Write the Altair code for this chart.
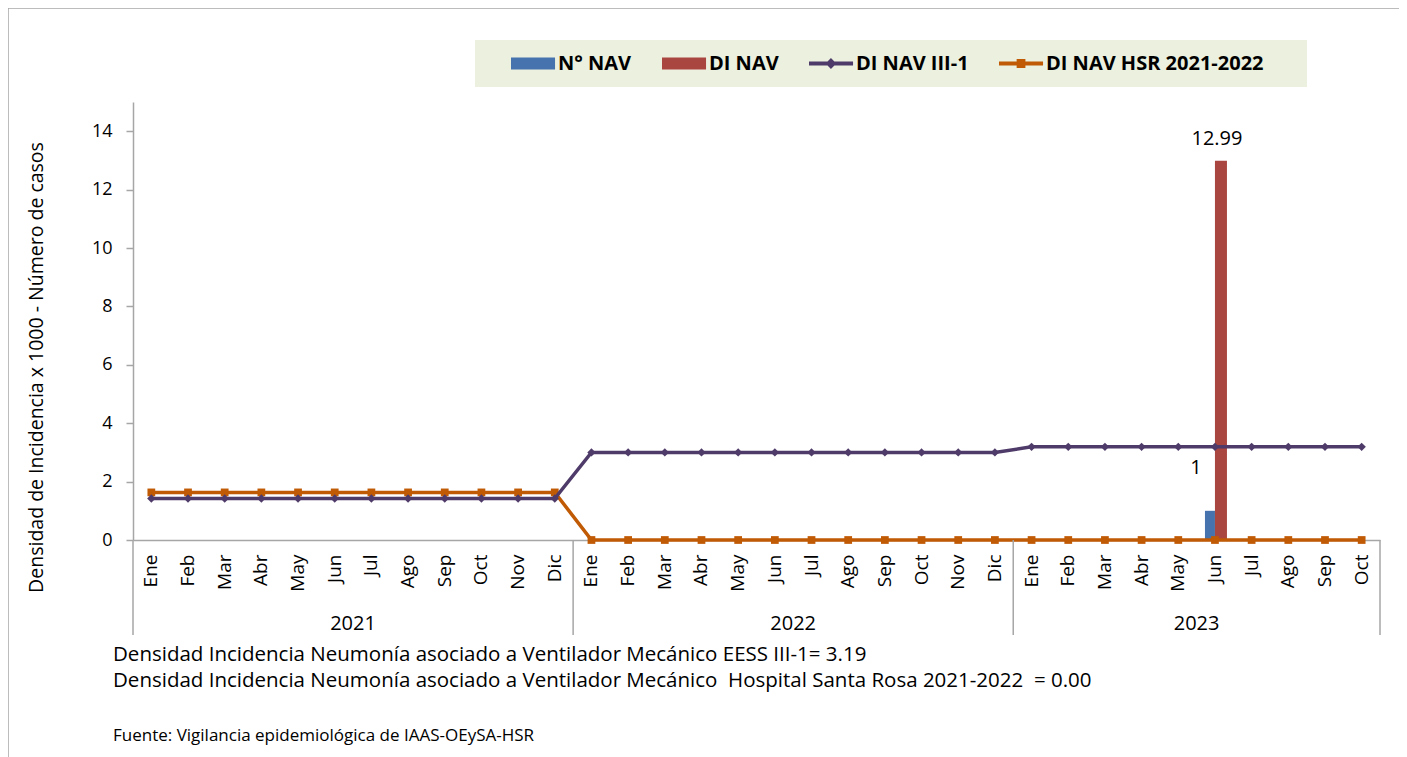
import altair as alt
import pandas as pd

# ---------------- data ----------------
years = ["2021"] * 12 + ["2022"] * 12 + ["2023"] * 10
months = ["Ene", "Feb", "Mar", "Abr", "May", "Jun", "Jul", "Ago", "Sep", "Oct", "Nov", "Dic",
          "Ene", "Feb", "Mar", "Abr", "May", "Jun", "Jul", "Ago", "Sep", "Oct", "Nov", "Dic",
          "Ene", "Feb", "Mar", "Abr", "May", "Jun", "Jul", "Ago", "Sep", "Oct"]
n_nav = [0] * 12 + [0] * 12 + [0, 0, 0, 0, 0, 1, 0, 0, 0, 0]
di_nav = [0] * 12 + [0] * 12 + [0, 0, 0, 0, 0, 12.99, 0, 0, 0, 0]
di_iii1 = [1.42] * 12 + [3.0] * 12 + [3.19] * 10
di_hsr = [1.63] * 12 + [0.0] * 12 + [0.0] * 10

series_names = ["N° NAV", "DI NAV", "DI NAV III-1", "DI NAV HSR 2021-2022"]
series_colors = ["#4673AD", "#A9463F", "#4F3B69", "#C05A05"]

footnotes = [
    "Densidad Incidencia Neumonía asociado a Ventilador Mecánico EESS III-1= 3.19",
    "Densidad Incidencia Neumonía asociado a Ventilador Mecánico\u00a0\u00a0Hospital Santa Rosa 2021-2022\u00a0\u00a0= 0.00",
]
source_note = "Fuente: Vigilancia epidemiológica de IAAS-OEySA-HSR"

# ---------------- tables ----------------
keys = [f"{y}|{m}" for y, m in zip(years, months)]
df = pd.DataFrame({"key": keys, "year": years, "month": months,
                   "n_nav": n_nav, "di_nav": di_nav, "iii1": di_iii1, "hsr": di_hsr})

year_list = ["2021", "2022", "2023"]
year_first = [keys[years.index(y)] for y in year_list]
year_mid = []
for y in year_list:
    idx = [i for i, yy in enumerate(years) if yy == y]
    year_mid.append(keys[idx[len(idx) // 2 - 1]])
ydf = pd.DataFrame({"year": year_list, "first": year_first, "mid": year_mid})
last_df = pd.DataFrame({"key": [keys[-1]]})

W, H = 1247, 438
OX, OY = 133, 102  # page position of the plot origin (used for decorations)
FONT = "Open Sans"

xscale = alt.Scale(type="band", domain=keys, paddingInner=0, paddingOuter=0)
yscale = alt.Scale(domain=[0, 15], nice=False)

x_axis = alt.Axis(title=None, labelExpr="split(datum.label, '|')[1]", labelAngle=-90,
                  labelFontSize=19, labelFont=FONT, labelColor="#000", labelPadding=14,
                  ticks=False, domainColor="#A6A6A6", domainWidth=1.5, grid=False)
y_axis = alt.Axis(title="Densidad de Incidencia x 1000 - Número de casos",
                  values=[0, 2, 4, 6, 8, 10, 12, 14], grid=False,
                  labelFontSize=18, labelFont=FONT, labelColor="#000", labelPadding=14,
                  tickSize=7, tickColor="#A6A6A6", tickWidth=1.5,
                  domainColor="#A6A6A6", domainWidth=1.5,
                  titleFontSize=19.5, titleFont=FONT, titleFontWeight="normal", titleColor="#000",
                  titleX=-87, titleY=265)

base = alt.Chart(df)


def X(field="key", bp=None):
    kw = {} if bp is None else {"bandPosition": bp}
    return alt.X(f"{field}:N", scale=xscale, axis=x_axis, sort=keys, **kw)


def Y(field):
    return alt.Y(f"{field}:Q", scale=yscale, axis=y_axis)


bar_blue = base.mark_bar(width=10, xOffset=-5, color=series_colors[0]).encode(x=X(), y=Y("n_nav"))
bar_red = base.mark_bar(width=12, xOffset=6, color=series_colors[1]).encode(x=X(), y=Y("di_nav"))

line_iii = base.mark_line(color=series_colors[2], strokeWidth=3.5,
                          point=alt.OverlayMarkDef(shape="diamond", filled=True, size=70,
                                                   color=series_colors[2], opacity=1)).encode(
    x=X(), y=Y("iii1"))
line_hsr = base.mark_line(color=series_colors[3], strokeWidth=3.5,
                          point=alt.OverlayMarkDef(shape="square", filled=True, size=60,
                                                   color=series_colors[3], opacity=1)).encode(
    x=X(), y=Y("hsr"))

lbl_red = base.transform_filter("datum.di_nav > 0").mark_text(
    fontSize=20, font=FONT, dy=-22, xOffset=2, color="#000").encode(
    x=X(), y=Y("di_nav"), text=alt.Text("di_nav:Q", format=".2f"))
lbl_blue = base.transform_filter("datum.n_nav > 0").mark_text(
    fontSize=20, font=FONT, dy=-43, xOffset=-19, color="#000").encode(
    x=X(), y=Y("n_nav"), text=alt.Text("n_nav:Q", format="d"))

# year separators and labels (second level of the category axis)
sep = alt.Chart(ydf).mark_rule(color="#A6A6A6", strokeWidth=1.5, clip=False).encode(
    x=X("first", 0), y=alt.value(H), y2=alt.value(H + 95))
sep_end = alt.Chart(last_df).mark_rule(color="#A6A6A6", strokeWidth=1.5, clip=False).encode(
    x=X("key", 1), y=alt.value(H), y2=alt.value(H + 95))
year_txt = alt.Chart(ydf).mark_text(fontSize=20, font=FONT, color="#000", baseline="middle").encode(
    x=X("mid", 1), y=alt.value(H + 84), text="year:N")

# legend background box
leg_box = alt.Chart(pd.DataFrame({"a": [0]})).mark_rect(fill="#EBF1DE", clip=False).encode(
    x=alt.value(475 - OX), x2=alt.value(1307 - OX), y=alt.value(40 - OY), y2=alt.value(87 - OY))

# legend (legend-only layer: scale domain is explicit, data filtered away)
# symbol unit = 12 px (size 576); symbols are 44 px wide, drawn from x=-1 to x=2.67 units
shape_paths = [
    "M-1,-0.5H2.67V0.5H-1Z",
    "M-1,-0.5H2.67V0.5H-1Z",
    "M-1,-0.16H2.67V0.16H-1Z M0.83,-0.45L1.28,0L0.83,0.45L0.38,0Z",
    "M-1,-0.16H2.67V0.16H-1Z M0.47,-0.37H1.2V0.37H0.47Z",
]
leg_df = pd.DataFrame({"serie": series_names, "key": [keys[0]] * 4, "v": [0] * 4})
legend = alt.Chart(leg_df).transform_filter("datum.v > 1").mark_point(filled=True, opacity=1).encode(
    x=X(), y=Y("v"),
    color=alt.Color("serie:N", scale=alt.Scale(domain=series_names, range=series_colors),
                    sort=series_names,
                    legend=alt.Legend(title=None, orient="none", direction="horizontal",
                                      legendX=511 - OX - 5, legendY=-55.5,
                                      padding=5, symbolSize=576, symbolOpacity=1,
                                      symbolStrokeWidth=0, columnPadding=30, labelOffset=23,
                                      labelFontSize=20, labelFont=FONT, labelFontWeight="bold",
                                      labelColor="#000", labelLimit=400)),
    shape=alt.Shape("serie:N", scale=alt.Scale(domain=series_names, range=shape_paths),
                    sort=series_names, legend=alt.Legend(title=None)),
)

# footnotes
fn1 = alt.Chart(pd.DataFrame({"t": [footnotes[0]]})).mark_text(
    align="left", baseline="middle", fontSize=20.5, font=FONT, color="#000").encode(
    x=alt.value(113 - OX), y=alt.value(655 - OY), text="t:N")
fn2 = alt.Chart(pd.DataFrame({"t": [footnotes[1]]})).mark_text(
    align="left", baseline="middle", fontSize=20.5, font=FONT, color="#000").encode(
    x=alt.value(113 - OX), y=alt.value(681 - OY), text="t:N")
src = alt.Chart(pd.DataFrame({"t": [source_note]})).mark_text(
    align="left", baseline="middle", fontSize=17, font=FONT, color="#000").encode(
    x=alt.value(113 - OX), y=alt.value(736 - OY), text="t:N")

frame = alt.Chart(pd.DataFrame({"a": [0]})).mark_rect(
    fill=None, stroke="#A6A6A6", strokeWidth=1.5, clip=False).encode(
    x=alt.value(8 - OX), x2=alt.value(1420 - OX), y=alt.value(8 - OY), y2=alt.value(780 - OY))

chart = alt.layer(frame, leg_box, bar_blue, bar_red, line_hsr, line_iii, lbl_red, lbl_blue,
                  sep, sep_end, year_txt, legend, fn1, fn2, src).properties(
    width=W, height=H,
    padding={"left": 125, "top": 94, "right": 19, "bottom": 217},
    autosize=alt.AutoSizeParams(type="none"),
).configure(background="white", view=alt.ViewConfig(stroke=None))

chart.save("out.html", embed_options={"renderer": "svg", "actions": False})
